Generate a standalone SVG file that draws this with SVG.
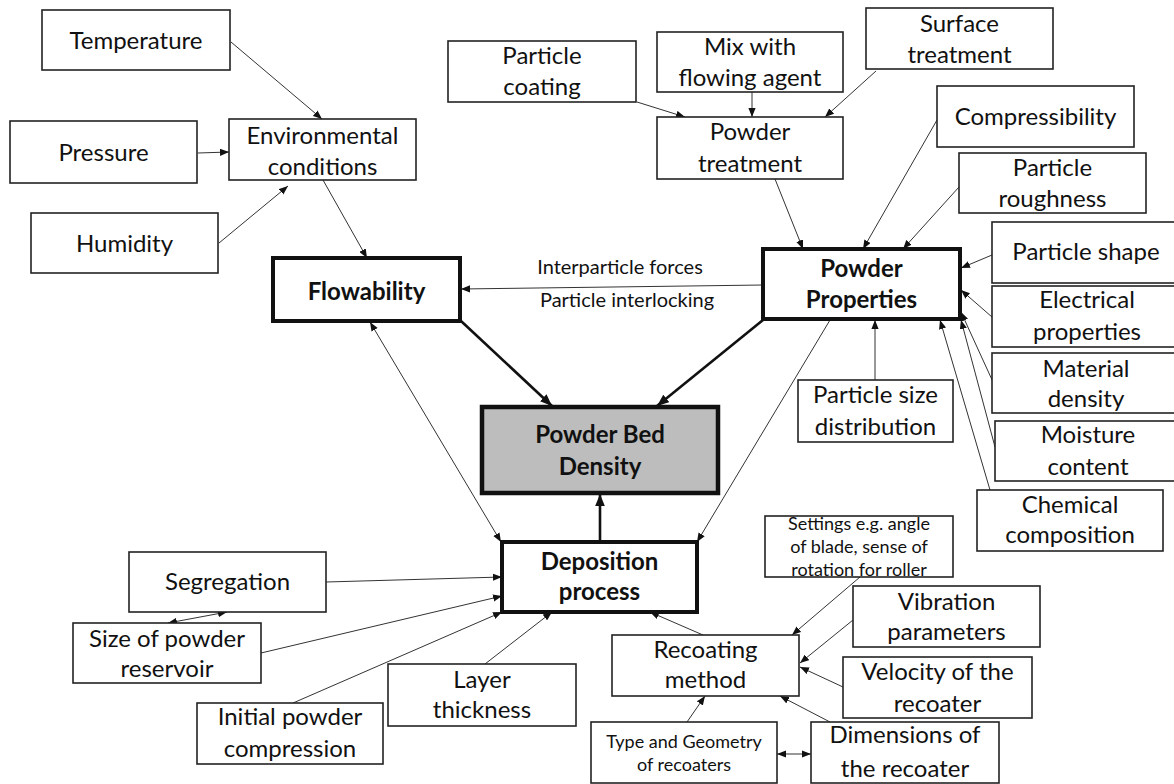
<svg xmlns="http://www.w3.org/2000/svg" width="1174" height="784" viewBox="0 0 1174 784">
<defs>
<marker id="a" viewBox="0 0 10 8" refX="10" refY="4" markerWidth="9" markerHeight="7.5" markerUnits="userSpaceOnUse" orient="auto-start-reverse"><path d="M0,0 L10,4 L0,8 z" fill="#111"/></marker>
<marker id="b" viewBox="0 0 10 8" refX="10" refY="4" markerWidth="12" markerHeight="10" markerUnits="userSpaceOnUse" orient="auto-start-reverse"><path d="M0,0 L10,4 L0,8 z" fill="#111"/></marker>
<style>
.n{fill:#fff;stroke:#222;stroke-width:1.6}
.k{fill:#fff;stroke:#111;stroke-width:4}
.g{fill:#bdbdbd;stroke:#111;stroke-width:4.5}
text{font-family:Lato,"Liberation Sans",sans-serif;font-size:24px;fill:#111;text-anchor:middle}
.bd{font-weight:bold;font-size:24px}
.sm{font-size:18px}
.xs{font-size:18px}
.lb{font-size:20px}
.c line{stroke:#333;stroke-width:1;marker-end:url(#a)}
.c line.t{stroke:#111;stroke-width:2.6;marker-end:url(#b)}
.c line.d{marker-start:url(#a)}
</style>
</defs>
<g class="c" id="connectors">
<line x1="231" y1="42" x2="322" y2="119"/>
<line x1="198" y1="153" x2="229" y2="152"/>
<line x1="219" y1="243" x2="288" y2="186"/>
<line x1="323" y1="180" x2="367" y2="258"/>
<line x1="637" y1="102" x2="685" y2="117"/>
<line x1="752" y1="92" x2="752" y2="117"/>
<line x1="876" y1="71" x2="825" y2="117"/>
<line x1="775" y1="179" x2="803" y2="249"/>
<line x1="937" y1="120" x2="863" y2="249"/>
<line x1="959" y1="187" x2="903" y2="249"/>
<line x1="992" y1="255" x2="961" y2="268"/>
<line x1="992" y1="317" x2="961" y2="290"/>
<line x1="993" y1="382" x2="961" y2="312"/>
<line x1="995" y1="447" x2="961" y2="320"/>
<line x1="990" y1="490" x2="940" y2="320"/>
<line x1="875" y1="380" x2="875" y2="320"/>
<line x1="763" y1="285" x2="461" y2="289"/>
<line x1="830" y1="320" x2="697" y2="542"/>
<line class="d" x1="370" y1="322" x2="501" y2="542"/>
<line x1="326" y1="582" x2="502" y2="577"/>
<line x1="261" y1="653" x2="502" y2="596"/>
<line x1="293" y1="703" x2="502" y2="612"/>
<line class="d" x1="168" y1="623" x2="227" y2="612"/>
<line x1="485" y1="664" x2="552" y2="612"/>
<line x1="703" y1="635" x2="650" y2="612"/>
<line x1="687" y1="722" x2="705" y2="696"/>
<line x1="860" y1="577" x2="792" y2="635"/>
<line x1="853" y1="620" x2="800" y2="663"/>
<line x1="843" y1="687" x2="800" y2="667"/>
<line x1="830" y1="722" x2="780" y2="696"/>
<line class="d" x1="777" y1="754" x2="811" y2="754"/>
<line class="t" x1="461" y1="321" x2="552" y2="406"/>
<line class="t" x1="763" y1="320" x2="657" y2="406"/>
<line class="t" x1="600" y1="542" x2="600" y2="494"/>
<text class="lb" x="620" y="274">Interparticle forces</text>
<text class="lb" x="627" y="307">Particle interlocking</text>
</g>
<g id="temperature"><rect class="n" x="42" y="10" width="188" height="60"/><text x="136" y="49">Temperature</text></g>
<g id="pressure"><rect class="n" x="10" y="121" width="187" height="62"/><text x="103.5" y="161">Pressure</text></g>
<g id="humidity"><rect class="n" x="31" y="213" width="187" height="60"/><text x="124.5" y="252">Humidity</text></g>
<g id="environmental"><rect class="n" x="229" y="119" width="187" height="61"/><text x="322.5" y="144">Environmental</text><text x="322.5" y="175">conditions</text></g>
<g id="flowability"><rect class="k" x="273" y="258" width="187" height="63"/><text class="bd" x="366.5" y="300">Flowability</text></g>
<g id="particle-coating"><rect class="n" x="448" y="41" width="188" height="61"/><text x="542" y="64">Particle</text><text x="542" y="95">coating</text></g>
<g id="mix"><rect class="n" x="657" y="32" width="186" height="60"/><text x="750" y="55">Mix with</text><text x="750" y="86">flowing agent</text></g>
<g id="surface"><rect class="n" x="866" y="8" width="187" height="61"/><text x="959.5" y="32">Surface</text><text x="959.5" y="63">treatment</text></g>
<g id="powder-treatment"><rect class="n" x="657" y="117" width="186" height="62"/><text x="750" y="140">Powder</text><text x="750" y="172">treatment</text></g>
<g id="compressibility"><rect class="n" x="937" y="86" width="197" height="61"/><text x="1035.5" y="125">Compressibility</text></g>
<g id="roughness"><rect class="n" x="959" y="153" width="187" height="60"/><text x="1052.5" y="176">Particle</text><text x="1052.5" y="207">roughness</text></g>
<g id="powder-properties"><rect class="k" x="763" y="249" width="197" height="70"/><text class="bd" x="861.5" y="277">Powder</text><text class="bd" x="861.5" y="308">Properties</text></g>
<g id="particle-shape"><rect class="n" x="992" y="222" width="192" height="61"/><text x="1086" y="260">Particle shape</text></g>
<g id="electrical"><rect class="n" x="992" y="286" width="192" height="61"/><text x="1087" y="308">Electrical</text><text x="1087" y="340">properties</text></g>
<g id="material-density"><rect class="n" x="992" y="353" width="192" height="60"/><text x="1086" y="377">Material</text><text x="1086" y="407">density</text></g>
<g id="moisture"><rect class="n" x="995" y="421" width="192" height="60"/><text x="1088" y="443">Moisture</text><text x="1088" y="475">content</text></g>
<g id="chemical"><rect class="n" x="977" y="490" width="186" height="61"/><text x="1070" y="513">Chemical</text><text x="1070" y="543">composition</text></g>
<g id="psd"><rect class="n" x="798" y="380" width="155" height="62"/><text x="875.5" y="403">Particle size</text><text x="875.5" y="435">distribution</text></g>
<g id="powder-bed-density"><rect class="g" x="482" y="407" width="236" height="86"/><text class="bd" x="600" y="443">Powder Bed</text><text class="bd" x="600" y="475">Density</text></g>
<g id="deposition"><rect class="k" x="502" y="542" width="195" height="70"/><text class="bd" x="599.5" y="570">Deposition</text><text class="bd" x="599.5" y="600">process</text></g>
<g id="segregation"><rect class="n" x="129" y="552" width="197" height="60"/><text x="227.5" y="590">Segregation</text></g>
<g id="reservoir"><rect class="n" x="73" y="623" width="188" height="60"/><text x="167" y="647">Size of powder</text><text x="167" y="677">reservoir</text></g>
<g id="initial-compression"><rect class="n" x="197" y="703" width="186" height="61"/><text x="290" y="725">Initial powder</text><text x="290" y="757">compression</text></g>
<g id="layer-thickness"><rect class="n" x="388" y="664" width="188" height="62"/><text x="482" y="688">Layer</text><text x="482" y="718">thickness</text></g>
<g id="recoating"><rect class="n" x="612" y="635" width="187" height="61"/><text x="705.5" y="658">Recoating</text><text x="705.5" y="688">method</text></g>
<g id="type-geometry"><rect class="n" x="591" y="722" width="186" height="61"/><text class="sm" x="684" y="748">Type and Geometry</text><text class="sm" x="684" y="771">of recoaters</text></g>
<g id="settings"><rect class="n" x="765" y="516" width="188" height="61"/><text class="xs" x="859" y="530">Settings e.g. angle</text><text class="xs" x="859" y="553">of blade,  sense of</text><text class="xs" x="859" y="576">rotation for roller</text></g>
<g id="vibration"><rect class="n" x="853" y="586" width="187" height="61"/><text x="946.5" y="610">Vibration</text><text x="946.5" y="640">parameters</text></g>
<g id="velocity"><rect class="n" x="843" y="657" width="189" height="61"/><text x="937.5" y="680">Velocity of the</text><text x="937.5" y="712">recoater</text></g>
<g id="dimensions"><rect class="n" x="811" y="722" width="188" height="61"/><text x="905" y="743">Dimensions of</text><text x="905" y="777">the recoater</text></g>
</svg>
